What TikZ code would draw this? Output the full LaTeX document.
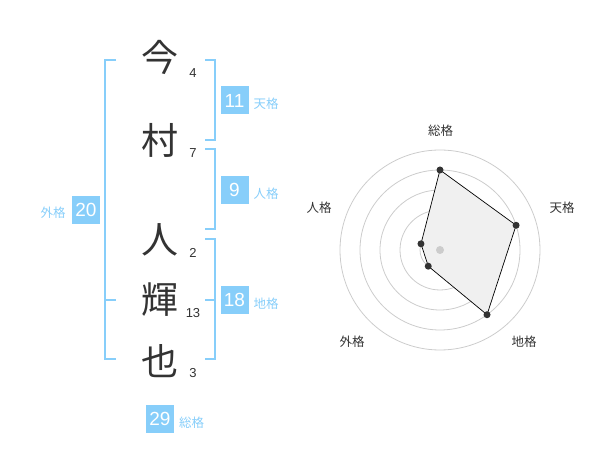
\documentclass[tikz,border=0pt]{standalone}
\usepackage{fontspec}
\setmainfont{Liberation Sans}
\newfontfamily\jp{Noto Sans CJK JP}
\definecolor{kaku}{HTML}{87CEFA}
\definecolor{ink}{HTML}{333333}
\begin{document}
\begin{tikzpicture}[x=1pt, y=-1pt,
    kanji/.style={font=\jp\fontsize{37}{37}\selectfont, text=ink, inner sep=0pt},
    strokes/.style={font=\fontsize{13}{13}\selectfont, text=ink, inner sep=0pt},
    kbox/.style={fill=kaku, text=white, minimum size=28pt, inner sep=0pt, font=\fontsize{19}{19}\selectfont},
    klabel/.style={font=\jp\fontsize{12.5}{12.5}\selectfont, text=kaku, inner sep=0pt},
    bracket/.style={draw=kaku, line width=2pt},
    ring/.style={draw=black!20, line width=0.8pt},
    rlabel/.style={font=\jp\fontsize{12.5}{12.5}\selectfont, text=ink, inner sep=0pt}]
    \useasboundingbox (0,0) rectangle (600,470);
    % name and stroke counts
    \foreach \y/\c/\s/\sy/\n in {57/今/4/72.7/a, 140/村/7/152.7/b, 240/人/2/253.3/c, 300/輝/13/312.7/d, 361/也/3/373.3/e}
    {
        \node[kanji] (k\n) at (160,\y) {\c};
        \node[strokes] (s\n) at (193,\sy) {\s};
    }
    % brackets
    \draw[bracket] (116,60) -- (105,60) -- (105,359) -- (116,359);
    \draw[bracket] (105,300) -- (116,300);
    \draw[bracket] (205,60) -- (215,60) -- (215,140) -- (205,140);
    \draw[bracket] (205,149) -- (215,149) -- (215,229) -- (205,229);
    \draw[bracket] (205,239) -- (215,239) -- (215,359) -- (205,359);
    \draw[bracket] (205,300) -- (215,300);
    % scores
    \foreach \x/\y/\v/\t/\n in {234.5/100.5/11/天格/ten, 234.5/190/9/人格/jin, 234.5/300/18/地格/chi, 160/419/29/総格/sou}
    {
        \node[kbox] (b\n) at (\x,\y) {\v};
        \node[klabel] (l\n) at (\x+31.5,\y+3.5) {\t};
    }
    \node[kbox] (bgai) at (86,210) {20};
    \node[klabel] (lgai) at (53,213) {外格};

    % radar
    \begin{scope}[shift={(440,250)}]
        \foreach \r in {20,40,...,100}
            \draw[ring] (0,0) circle (\r pt);
        \coordinate (vsou) at (-90:80);
        \coordinate (vten) at (-18:80);
        \coordinate (vchi) at (54:80);
        \coordinate (vgai) at (126:20);
        \coordinate (vjin) at (198:20);
        \draw[fill=black!6, line width=0.7pt] (vsou) -- (vten) -- (vchi) -- (vgai) -- (vjin) -- cycle;
        \foreach \p in {vsou,vten,vchi,vgai,vjin}
            \fill[ink] (\p) circle (3.5pt);
        \fill[black!20] (0,0) circle (4pt);
        \foreach \x/\y/\t/\n in {0.7/-119.3/総格/sou, 122/-42/天格/ten, 84/91.7/地格/chi, -88/91.7/外格/gai, -121/-42/人格/jin}
            \node[rlabel] (r\n) at (\x,\y) {\t};
    \end{scope}
\end{tikzpicture}
\end{document}
